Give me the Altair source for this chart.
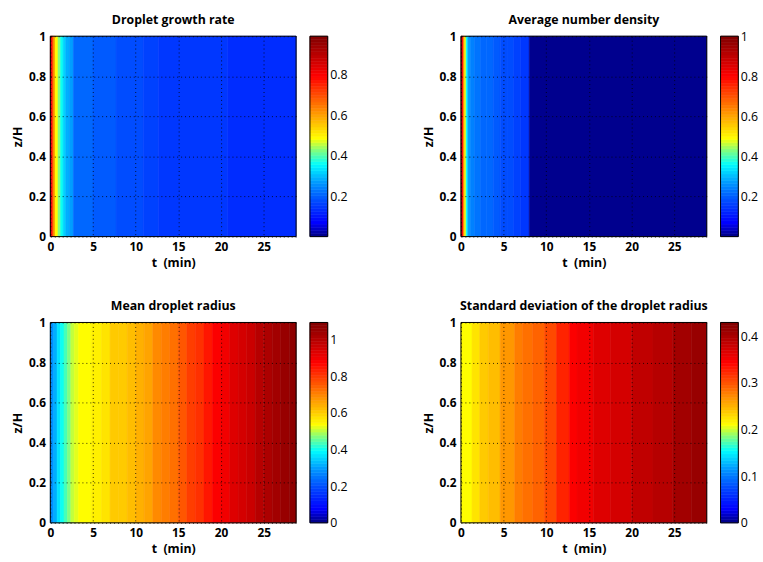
import altair as alt
import numpy as np
import pandas as pd

T_END = 28.8
X_TICKS = [0, 5, 10, 15, 20, 25]
Y_TICKS = [0, 0.2, 0.4, 0.6, 0.8, 1]

# Droplet growth rate: column start times (min) and values
growth_t = [0, 0.1, 0.3, 0.55, 0.9, 1.2, 1.5, 1.8, 2.2, 2.7, 5.0, 7.7,
            10.9, 12.7, 20.8]
growth_v = [0.94, 0.79, 0.62, 0.485, 0.425, 0.356, 0.32, 0.29, 0.267, 0.21,
            0.195, 0.18, 0.165, 0.15, 0.135]
growth_max = 0.99
growth_bar_ticks = [0.2, 0.4, 0.6, 0.8]

# Average number density
density_t = [0, 0.15, 0.3, 0.45, 0.6, 0.8, 1.1, 1.6, 2.3, 3.0, 3.8, 4.6,
             5.4, 6.2, 7.0, 8.0]
density_v = [0.95, 0.8, 0.6, 0.49, 0.36, 0.27, 0.235, 0.225, 0.215, 0.205,
             0.195, 0.185, 0.175, 0.165, 0.155, 0.005]
density_max = 1.0
density_bar_ticks = [0.2, 0.4, 0.6, 0.8, 1]

# Mean droplet radius
radius_t = [0, 0.4, 0.8, 1.2, 1.6, 2.0, 2.4, 2.8, 3.3, 4.8, 6, 7, 8, 9, 10,
            11, 12, 13, 14, 15, 16, 17, 18, 19, 20, 21, 22, 23, 24, 25, 26,
            27, 28]
radius_v = [0.28, 0.32, 0.36, 0.4, 0.44, 0.47, 0.5, 0.515, 0.537, 0.56,
            0.58, 0.6, 0.615, 0.63, 0.645, 0.665, 0.685, 0.71, 0.735, 0.76,
            0.79, 0.82, 0.85, 0.875, 0.9, 0.925, 0.95, 0.975, 1.0, 1.02,
            1.04, 1.055, 1.07]
radius_max = 1.095
radius_bar_ticks = [0, 0.2, 0.4, 0.6, 0.8, 1]

# Standard deviation of the droplet radius
spread_t = [0, 1.3, 2.2, 3.2, 4.6, 6.3, 7.2, 8.4, 9.8, 11.2, 12.7, 13.6,
            15.5, 17.5, 20, 22.5, 24.8, 27]
spread_v = [0.211, 0.224, 0.237, 0.244, 0.264, 0.277, 0.284, 0.29, 0.304,
            0.324, 0.344, 0.355, 0.365, 0.375, 0.385, 0.396, 0.408, 0.415]
spread_max = 0.43
spread_bar_ticks = [0, 0.1, 0.2, 0.3, 0.4]

# colour map stops: position in [0, 1] and RGB
CMAP_POS = [0.0, 0.07, 0.18, 0.27, 0.36, 0.43, 0.49, 0.63, 0.80, 1.0]
CMAP_RGB = [(0, 0, 0.5), (0, 0, 1), (0, 0.3, 1), (0, 0.6, 1), (0, 1, 1),
            (0.5, 1, 0.5), (1, 1, 0), (1, 0.55, 0), (1, 0, 0), (0.5, 0, 0)]

PLOT_W, PLOT_H = 249, 203
GAP, BAR_W = 14, 18
PANEL_W = PLOT_W + GAP + BAR_W
FONT = "Open Sans"
N_COLORS = 64


def colormap(n=N_COLORS):
    pos = np.array(CMAP_POS)
    rgb = np.array(CMAP_RGB)
    xs = (np.arange(n) + 0.5) / n
    out = []
    for x in xs:
        r, g, b = (np.interp(x, pos, rgb[:, c]) for c in range(3))
        out.append("#%02x%02x%02x" % (round(r * 255), round(g * 255), round(b * 255)))
    return out


COLORS = colormap()


def panel(title, t_start, values, vmax, bar_ticks):
    df = pd.DataFrame({
        "t": t_start,
        "t2": t_start[1:] + [T_END],
        "v": values,
        "z0": 0.0,
        "z1": 1.0,
    })
    color = alt.Scale(type="quantize", domain=[0, vmax], range=COLORS)
    xs = alt.Scale(domain=[0, T_END], range=[0, PLOT_W], nice=False, zero=False)
    ys = alt.Scale(domain=[0, 1], nice=False, zero=False)
    grid = dict(grid=True, gridColor="black", gridDash=[1, 3], gridOpacity=0.8,
                ticks=False, domain=False, zindex=1)

    heat = alt.Chart(df).mark_rect(strokeWidth=0.6).encode(
        x=alt.X("t:Q", scale=xs, axis=alt.Axis(
            values=X_TICKS, title="t\u00a0\u00a0(min)", format="d",
            labelPadding=5, titlePadding=4, labelFlush=False, **grid)),
        x2="t2:Q",
        y=alt.Y("z0:Q", scale=ys, axis=alt.Axis(
            values=Y_TICKS, title="z/H", format="~g",
            labelPadding=5, minExtent=24, maxExtent=24, titlePadding=2,
            **grid)),
        y2="z1:Q",
        color=alt.Color("v:Q", scale=color, legend=None),
        stroke=alt.Stroke("v:Q", scale=color, legend=None),
    )
    frame = alt.Chart(df.head(1)).mark_rect(
        filled=False, stroke="black", strokeWidth=1
    ).encode(
        x=alt.X(datum=0, scale=xs, axis=None),
        x2=alt.datum(T_END),
        y=alt.Y(datum=0, scale=ys, axis=None),
        y2=alt.datum(1),
    )

    levels = np.arange(N_COLORS)
    bar_df = pd.DataFrame({
        "lo": levels * vmax / N_COLORS,
        "hi": (levels + 1) * vmax / N_COLORS,
        "mid": (levels + 0.5) * vmax / N_COLORS,
    })
    bx = alt.Scale(domain=[0, 1], range=[PLOT_W + GAP, PANEL_W])
    by = alt.Scale(domain=[0, vmax], nice=False, zero=False)
    bar = alt.Chart(bar_df).mark_rect(strokeWidth=0.6).encode(
        x=alt.X(datum=0, scale=bx, axis=None),
        x2=alt.datum(1),
        y=alt.Y("lo:Q", scale=by, axis=alt.Axis(
            orient="right", values=bar_ticks, format="~g", title=None,
            grid=False, ticks=False, domain=False, labelPadding=2,
            labelFontWeight="normal", labelFontSize=12.5)),
        y2="hi:Q",
        color=alt.Color("mid:Q", scale=color, legend=None),
        stroke=alt.Stroke("mid:Q", scale=color, legend=None),
    )
    bar_frame = alt.Chart(bar_df.head(1)).mark_rect(
        filled=False, stroke="black", strokeWidth=1
    ).encode(
        x=alt.X(datum=0, scale=bx, axis=None),
        x2=alt.datum(1),
        y=alt.Y(datum=0, scale=by, axis=None),
        y2=alt.datum(vmax),
    )

    return alt.layer(heat, frame, bar, bar_frame).resolve_scale(
        x="independent", y="independent"
    ).properties(
        width=PANEL_W, height=PLOT_H,
        title=alt.TitleParams(title, dx=-(GAP + BAR_W) / 2, offset=4),
    )


chart = alt.concat(
    panel("Droplet growth rate", growth_t, growth_v, growth_max, growth_bar_ticks),
    panel("Average number density", density_t, density_v, density_max, density_bar_ticks),
    panel("Mean droplet radius", radius_t, radius_v, radius_max, radius_bar_ticks),
    panel("Standard deviation of the droplet radius", spread_t, spread_v, spread_max, spread_bar_ticks),
    columns=2,
    spacing={"row": 87, "column": 135},
    bounds="flush",
).resolve_scale(
    color="independent", stroke="independent"
).properties(
    padding={"left": 12, "top": 10, "right": 5, "bottom": 5},
    background="white",
).configure_view(
    strokeWidth=0
).configure_axis(
    labelFont=FONT, labelFontSize=12, labelFontWeight="bold", labelColor="black",
    titleFont=FONT, titleFontSize=12.5, titleFontWeight="bold", titleColor="black",
).configure_title(
    font=FONT, fontSize=12.5, fontWeight="bold", color="black",
)

chart.save("out.html", embed_options={"renderer": "svg", "actions": False})
